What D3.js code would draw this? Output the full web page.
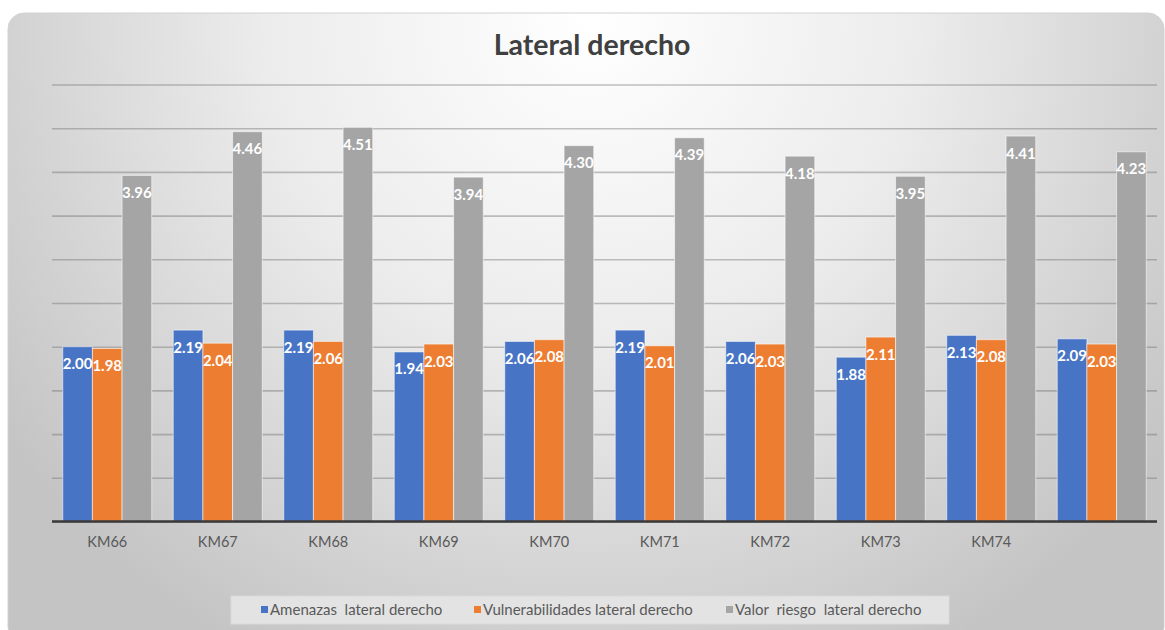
<!DOCTYPE html>
<html>
<head>
<meta charset="utf-8">
<script src="https://cdn.jsdelivr.net/npm/d3@7/dist/d3.min.js"></script>
<style>
  html, body { margin: 0; padding: 0; background: #ffffff; }
  svg { display: block; }
</style>
</head>
<body>
<svg id="chart" width="1165" height="630"></svg>
<script>
// Tramos de la vía (el último sin rótulo)
const categories = ["KM66", "KM67", "KM68", "KM69", "KM70", "KM71", "KM72", "KM73", "KM74", ""];

// Valores por tramo
const amenazas        = [2.00, 2.19, 2.19, 1.94, 2.06, 2.19, 2.06, 1.88, 2.13, 2.09];
const vulnerabilidades = [1.98, 2.04, 2.06, 2.03, 2.08, 2.01, 2.03, 2.11, 2.08, 2.03];
const riesgo          = [3.96, 4.46, 4.51, 3.94, 4.30, 4.39, 4.18, 3.95, 4.41, 4.23];

const seriesNames = ["Amenazas  lateral derecho", "Vulnerabilidades lateral derecho", "Valor  riesgo  lateral derecho"];
const seriesColors = ["#4874C5", "#ED7D31", "#A5A5A5"];
const yTicks = [0, 0.5, 1, 1.5, 2, 2.5, 3, 3.5, 4, 4.5, 5];

const seriesValues = [amenazas, vulnerabilidades, riesgo];
const rows = categories.map((c, i) => ({
  cat: c,
  vals: seriesValues.map((arr, s) => ({ s, v: arr[i] }))
}));

const svg = d3.select("#chart");
const FONT = "Lato, 'Open Sans', sans-serif";

// Fondo de la tarjeta: degradado radial claro en el centro superior
const defs = svg.append("defs");
const grad = defs.append("radialGradient")
  .attr("id", "bg")
  .attr("gradientUnits", "userSpaceOnUse")
  .attr("cx", 590).attr("cy", 20).attr("r", 720);
grad.append("stop").attr("offset", 0).attr("stop-color", "#ffffff");
grad.append("stop").attr("offset", 0.45).attr("stop-color", "#ececec");
grad.append("stop").attr("offset", 1).attr("stop-color", "#c4c4c4");

svg.append("rect")
  .attr("x", 8).attr("y", 13)
  .attr("width", 1156).attr("height", 630)
  .attr("rx", 16)
  .attr("fill", "url(#bg)")
  .attr("stroke", "#d2d2d2").attr("stroke-width", 1);

// Escalas
const plotLeft = 52, plotRight = 1157;
const x0 = d3.scaleBand()
  .domain(categories.map((c, i) => i))
  .range([plotLeft, plotRight])
  .paddingInner(0.1946)
  .paddingOuter(0.0973);
const x1 = d3.scaleBand()
  .domain([0, 1, 2])
  .range([0, x0.bandwidth()])
  .padding(0);
const y = d3.scaleLinear().domain([0, 5]).range([521.5, 84.5]);

// Líneas de división
const grid = svg.append("g")
  .attr("transform", `translate(${plotLeft},0)`)
  .call(d3.axisLeft(y).tickValues(yTicks).tickSize(-(plotRight - plotLeft)).tickFormat(""));
grid.select(".domain").remove();
grid.selectAll(".tick line")
  .attr("stroke", "#6e6e6e")
  .attr("stroke-opacity", 0.42)
  .attr("stroke-width", 1.6);

// Barras
const groups = svg.append("g").selectAll("g")
  .data(rows)
  .join("g")
  .attr("transform", (d, i) => `translate(${x0(i)},0)`);

groups.selectAll("rect")
  .data(d => d.vals)
  .join("rect")
  .attr("x", d => x1(d.s))
  .attr("y", d => y(d.v))
  .attr("width", x1.bandwidth())
  .attr("height", d => y(0) - y(d.v))
  .attr("fill", d => seriesColors[d.s])
  .attr("stroke", "rgba(255,255,255,0.55)")
  .attr("stroke-width", 1);

// Etiquetas de datos
groups.selectAll("text")
  .data(d => d.vals)
  .join("text")
  .attr("x", d => x1(d.s) + x1.bandwidth() / 2)
  .attr("y", d => y(d.v) + 22.5)
  .attr("text-anchor", "middle")
  .attr("font-family", FONT)
  .attr("font-weight", "bold")
  .attr("font-size", 15)
  .attr("fill", "#ffffff")
  .text(d => d.v.toFixed(2));

// Eje horizontal
svg.append("line")
  .attr("x1", plotLeft).attr("x2", plotRight)
  .attr("y1", y(0)).attr("y2", y(0))
  .attr("stroke", "#3a3a3a").attr("stroke-width", 2.5);

const xAxis = svg.append("g")
  .attr("transform", `translate(0,${y(0)})`)
  .call(d3.axisBottom(x0).tickSize(0).tickPadding(0).tickFormat(i => categories[i]));
xAxis.select(".domain").remove();
xAxis.selectAll("text")
  .attr("y", 25.5)
  .attr("dy", null)
  .attr("font-family", FONT)
  .attr("font-size", 14.5)
  .attr("fill", "#595959");

// Título
svg.append("text")
  .attr("x", 592).attr("y", 55)
  .attr("text-anchor", "middle")
  .attr("font-family", FONT)
  .attr("font-weight", "bold")
  .attr("font-size", 28.5)
  .attr("fill", "#404040")
  .text("Lateral derecho");

// Leyenda
svg.append("rect")
  .attr("x", 231).attr("y", 596)
  .attr("width", 718).attr("height", 28)
  .attr("fill", "#e3e3e3")
  .attr("stroke", "#dadada");

const legendX = [261, 474, 726];
const legend = svg.append("g").selectAll("g")
  .data(seriesNames)
  .join("g")
  .attr("transform", (d, i) => `translate(${legendX[i]},610)`);
legend.append("rect")
  .attr("x", 0).attr("y", -4)
  .attr("width", 7).attr("height", 7)
  .attr("fill", (d, i) => seriesColors[i]);
legend.append("text")
  .attr("x", 9).attr("y", 5)
  .attr("font-family", FONT)
  .attr("font-size", 15)
  .attr("fill", "#595959")
  .style("white-space", "pre")
  .attr("xml:space", "preserve")
  .text(d => d);
</script>
</body>
</html>
